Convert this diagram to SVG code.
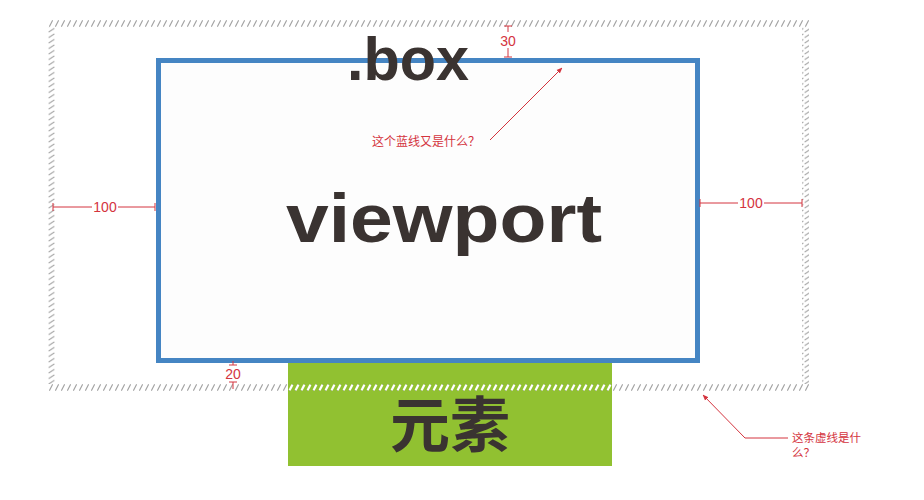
<svg xmlns="http://www.w3.org/2000/svg" width="924" height="500" viewBox="0 0 924 500">
<defs>
<pattern id="hh" patternUnits="userSpaceOnUse" x="0" y="20" width="6" height="7">
<line x1="1.6" y1="6.3" x2="4.4" y2="0.7" stroke="#a3a3a3" stroke-width="1.2" stroke-linecap="round"/>
</pattern>
<pattern id="hv" patternUnits="userSpaceOnUse" x="48" y="0" width="7" height="5.5">
<line x1="1" y1="4.3" x2="6" y2="1.2" stroke="#a3a3a3" stroke-width="1.2" stroke-linecap="round"/>
</pattern>
<pattern id="hw" patternUnits="userSpaceOnUse" x="0" y="20" width="6" height="7">
<line x1="1.6" y1="6.3" x2="4.4" y2="0.7" stroke="#ffffff" stroke-width="2.2"/>
</pattern>
<marker id="ah" viewBox="0 0 10 10" refX="9" refY="5" markerWidth="6" markerHeight="6" orient="auto">
<path d="M0,1 L10,5 L0,9 z" fill="#d4343e"/>
</marker>
<style>
.red{fill:#d4343e;font-family:"Liberation Sans","Noto Sans CJK SC",sans-serif}
.dim{stroke:#d4343e;stroke-width:1;fill:none}
.big{fill:#3a3331;font-family:"Liberation Sans","Noto Sans CJK SC",sans-serif;font-weight:bold}
</style>
</defs>
<rect width="924" height="500" fill="#ffffff"/>
<g id="element">
<rect x="288" y="363" width="324" height="103" fill="#91c131"/>
<text class="big" x="450" y="447" font-size="60" text-anchor="middle" font-family="'Noto Sans CJK SC',sans-serif">元素</text>
</g>
<g id="box">
<rect x="48" y="20" width="761" height="7" fill="url(#hh)"/>
<rect x="48" y="384" width="761" height="7" fill="url(#hh)"/>
<rect x="48" y="27" width="7" height="357" fill="url(#hv)"/>
<rect x="802" y="27" width="7" height="357" fill="url(#hv)"/>
<rect x="288" y="384" width="324" height="7" fill="url(#hw)"/>
</g>
<g id="viewport">
<rect x="158.5" y="60.5" width="539" height="300" fill="#fdfdfd" stroke="#4585c3" stroke-width="5"/>
<text class="big" x="444" y="242" font-size="68" text-anchor="middle" textLength="316" lengthAdjust="spacingAndGlyphs">viewport</text>
</g>
<g id="box-label">
<text class="big" x="408" y="80" font-size="62" text-anchor="middle" textLength="122" lengthAdjust="spacingAndGlyphs">.box</text>
</g>
<g id="connectors">
<path class="dim" d="M508,26 V32 M504,26 H512 M508,48 V57 M504,57 H512"/>
<path class="dim" d="M53,207 H92 M118,207 H155 M53,203 V211 M155,203 V211"/>
<path class="dim" d="M700,203 H738 M764,203 H802 M700,199 V207 M802,199 V207"/>
<path class="dim" d="M233,361 V365 M229,365 H237 M233,382 V389 M229,382 H237"/>
<line class="dim" x1="490" y1="140" x2="562" y2="68" marker-end="url(#ah)"/>
<polyline class="dim" points="788,438 745,438 703,395" marker-end="url(#ah)"/>
</g>
<g id="labels">
<text class="red" x="508" y="46" font-size="14" text-anchor="middle">30</text>
<text class="red" x="105" y="212" font-size="14" text-anchor="middle">100</text>
<text class="red" x="751" y="208" font-size="14" text-anchor="middle">100</text>
<text class="red" x="233" y="379" font-size="14" text-anchor="middle">20</text>
<text class="red" x="372" y="146" font-size="12">这个蓝线又是什么？</text>
<text class="red" x="792" y="442" font-size="11.5">这条虚线是什</text>
<text class="red" x="792" y="457" font-size="11.5">么？</text>
</g>
</svg>
